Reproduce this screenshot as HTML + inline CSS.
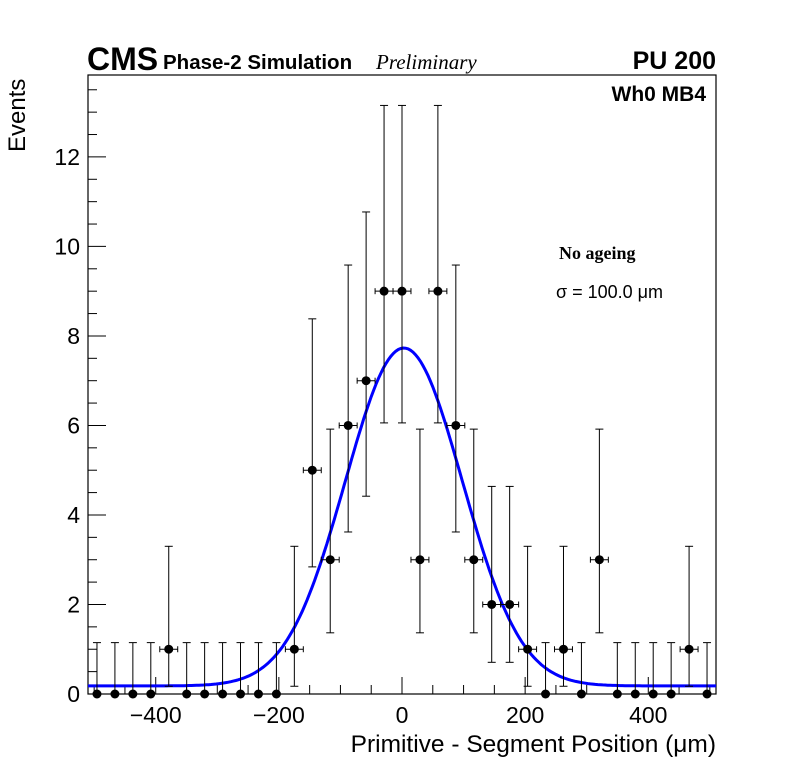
<!DOCTYPE html>
<html><head><meta charset="utf-8"><style>
body{margin:0;background:#fff}
svg{display:block;font-family:"Liberation Sans",sans-serif}
</style></head><body>
<svg id="c" width="796" height="772" viewBox="0 0 796 772">
<rect width="796" height="772" fill="#fff"/>
<text x="87" y="70" font-size="32" font-weight="bold">CMS</text>
<text x="163" y="69" font-size="20.5" font-weight="bold">Phase-2 Simulation</text>
<text x="376" y="69" font-size="21" font-style="italic" font-family="Liberation Serif,serif">Preliminary</text>
<text x="716" y="69" font-size="25" font-weight="bold" text-anchor="end">PU 200</text>
<text x="706" y="101" font-size="21" font-weight="bold" text-anchor="end">Wh0 MB4</text>
<text x="559" y="259" font-size="18" font-weight="bold" font-family="Liberation Serif,serif">No ageing</text>
<text x="556" y="298" font-size="18">σ = 100.0 μm</text>
<text x="716" y="752" font-size="24.5" text-anchor="end">Primitive - Segment Position (μm)</text>
<text x="25" y="152" font-size="24" text-anchor="start" transform="rotate(-90 25 152)">Events</text>
<rect x="88" y="75" width="628" height="619" fill="none" stroke="#000" stroke-width="1.2"/>
<g id="g"></g>
</svg>
<script>
const counts=[0,0,0,0,1,0,0,0,0,0,0,1,5,3,6,7,9,9,3,9,6,3,2,2,1,0,1,0,3,0,0,0,0,1,0];
const xTicks=[-400,-200,0,200,400];
const yTicks=[0,2,4,6,8,10,12];
const fitParams=[7.55,3,95,0.18]; // amp, mean, sigma, const
const errLow={0:0,1:0.173,2:0.708,3:1.367,5:2.84,6:3.62,7:4.419,9:6.057};
const errHigh={0:1.148,1:3.3,2:4.638,3:5.918,5:8.382,6:9.584,7:10.77,9:13.15};
const X0=-510,X1=510,Y1=13.83,L=88,R=716,T=75,B=694;
const sx=v=>L+(v-X0)/(X1-X0)*(R-L), sy=v=>B-v/Y1*(B-T);
const g=document.getElementById('g'),NS='http://www.w3.org/2000/svg';
function el(t,a,p){const e=document.createElementNS(NS,t);for(const k in a)e.setAttribute(k,a[k]);(p||g).appendChild(e);return e;}
for(let v=-500;v<=500;v+=50){const maj=v%200===0;
const t=el('line',{x1:sx(v),x2:sx(v),y1:B,y2:B-(maj?17:9),stroke:'#000'});

}
xTicks.forEach(v=>{const t=el('text',{x:sx(v),y:B+29,'font-size':23,'text-anchor':'middle'});t.textContent=(v<0?'\u2212'+(-v):v);

});
for(let v=0;v<=13.5;v+=0.5){const maj=v%2===0;
const t=el('line',{x1:L,x2:L+(maj?18:9),y1:sy(v),y2:sy(v),stroke:'#000'});

}
yTicks.forEach(v=>{const t=el('text',{x:L-8,y:sy(v)+8,'font-size':23,'text-anchor':'end'});t.textContent=v;

});
let d='';for(let x=X0;x<=X1;x+=4){const [a,m,s,c]=fitParams;const y=c+a*Math.exp(-0.5*((x-m)/s)**2);d+=(d?'L':'M')+sx(x).toFixed(1)+','+sy(y).toFixed(1);}
const f=el('path',{d:d,fill:'none',stroke:'#0000ff','stroke-width':3});


const bw=(X1-X0)/counts.length;
counts.forEach((n,i)=>{const xc=X0+bw*(i+0.5),px=sx(xc),py=sy(n);
const gp=el('g',{});


el('line',{x1:px,x2:px,y1:sy(errLow[n]),y2:sy(errHigh[n]),stroke:'#000'},gp);
el('line',{x1:px-4,x2:px+4,y1:sy(errHigh[n]),y2:sy(errHigh[n]),stroke:'#000'},gp);
if(n>0){el('line',{x1:px-4,x2:px+4,y1:sy(errLow[n]),y2:sy(errLow[n]),stroke:'#000'},gp);
el('line',{x1:sx(xc-bw/2),x2:sx(xc+bw/2),y1:py,y2:py,stroke:'#000'},gp);
[sx(xc-bw/2),sx(xc+bw/2)].forEach(x=>el('line',{x1:x,x2:x,y1:py-3,y2:py+3,stroke:'#000'},gp));}
el('circle',{cx:px,cy:py,r:4.5,fill:'#000'},gp);});
</script>
</body></html>
